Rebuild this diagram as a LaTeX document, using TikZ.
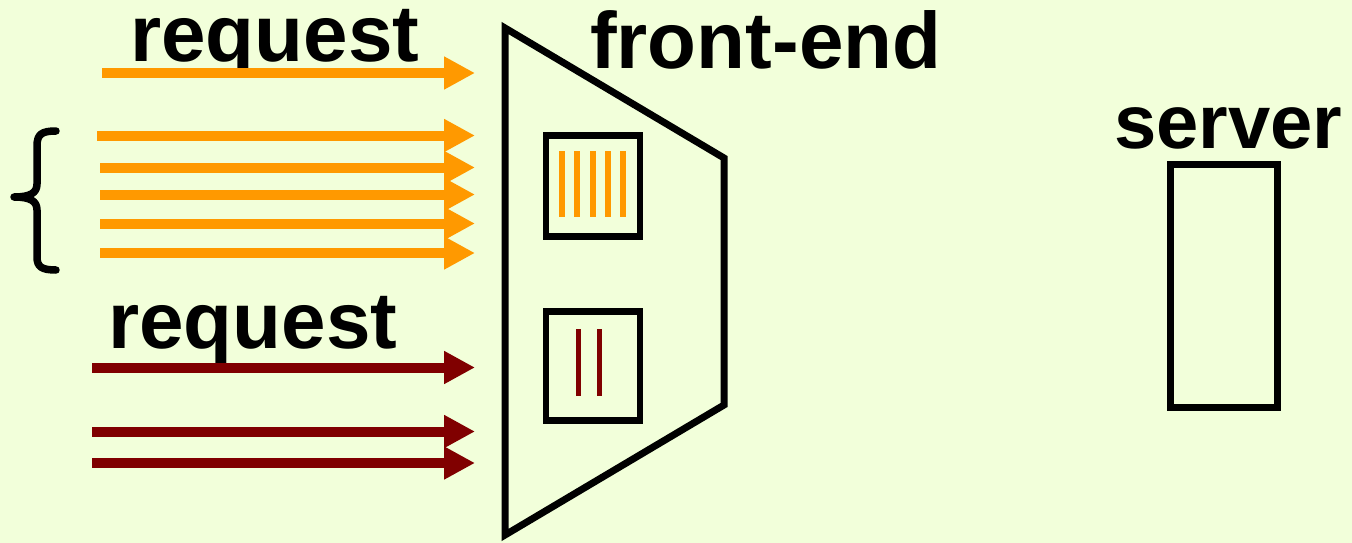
\documentclass[tikz,border=0pt]{standalone}
\usepackage{fontspec}
\setmainfont{Liberation Sans}
\usetikzlibrary{arrows.meta}
\definecolor{bgc}{RGB}{242,255,218}
\definecolor{reqorange}{RGB}{255,153,0}
\definecolor{reqred}{RGB}{128,0,0}
\tikzset{
  lbl/.style={anchor=base west, inner sep=0pt, font=\bfseries\fontsize{80}{90}\selectfont},
  orangearrow/.style={draw=reqorange, line width=10pt, -{Triangle[length=31pt,width=31pt]}},
  redarrow/.style={draw=reqred, line width=10pt, -{Triangle[length=31pt,width=31pt]}},
  thickbox/.style={draw=black, line width=6.5pt, outer sep=0pt, inner sep=0pt, anchor=north west},
  obar/.style={draw=reqorange, line width=5.5pt},
  rbar/.style={draw=reqred, line width=5pt}
}
\begin{document}
\begin{tikzpicture}[x=1pt,y=-1pt]
\fill[bgc] (0,0) rectangle (1352,543);
\useasboundingbox (0,0) rectangle (1352,543);

% labels
\node[lbl] (req1) at (130,62) {request};
\node[lbl] (req2) at (108,348) {request};
\node[lbl] (fe) at (590,69) {front-end};
\node[lbl,font=\bfseries\fontsize{76}{86}\selectfont] (srv) at (1114,148) {server};

% front-end trapezoid
\coordinate (t1) at (505,28);
\coordinate (t2) at (724,158);
\coordinate (t3) at (724,405);
\coordinate (t4) at (505,535);
\draw[draw=black, line width=7pt, line join=miter] (t1) -- (t2) -- (t3) -- (t4) -- cycle;

% queues inside front-end
\node[thickbox, minimum width=94pt, minimum height=101pt] (q1) at (546,135.5) {};
\node[thickbox, minimum width=94pt, minimum height=109pt] (q2) at (546,311.5) {};
\foreach \x in {562,577,593,608,623}{
  \draw[obar] (\x,151) -- (\x,217);
}
\foreach \x in {578,599}{
  \draw[rbar] (\x,329) -- (\x,396);
}

% server
\node[thickbox, line width=7pt, minimum width=107pt, minimum height=243pt] (server) at (1170,164) {};

% orange request arrows
\coordinate (oa0s) at (102,73);   \coordinate (oa0e) at (475,73);
\coordinate (oa1s) at (97,135.5); \coordinate (oa1e) at (475,135.5);
\coordinate (oa2s) at (100,167.5);\coordinate (oa2e) at (475,167.5);
\coordinate (oa3s) at (100,194.5);\coordinate (oa3e) at (475,194.5);
\coordinate (oa4s) at (100,223.5);\coordinate (oa4e) at (475,223.5);
\coordinate (oa5s) at (100,253);  \coordinate (oa5e) at (475,253);
\foreach \i in {0,...,5}{
  \draw[orangearrow] (oa\i s) -- (oa\i e);
}

% dark red request arrows
\coordinate (ra1s) at (92,367.5); \coordinate (ra1e) at (475,367.5);
\coordinate (ra2s) at (92,431.5); \coordinate (ra2e) at (475,431.5);
\coordinate (ra3s) at (92,463);   \coordinate (ra3e) at (475,463);
\foreach \i in {1,2,3}{
  \draw[redarrow] (ra\i s) -- (ra\i e);
}

% brace
\draw[line width=7.5pt, line cap=round, line join=round]
  (56,131) .. controls (42,131) and (37,134) .. (37,146)
  -- (37,184) .. controls (37,193) and (30,197) .. (14,197)
  .. controls (30,197) and (37,201) .. (37,210)
  -- (37,257) .. controls (37,267) and (42,270) .. (56,270);
\end{tikzpicture}
\end{document}
